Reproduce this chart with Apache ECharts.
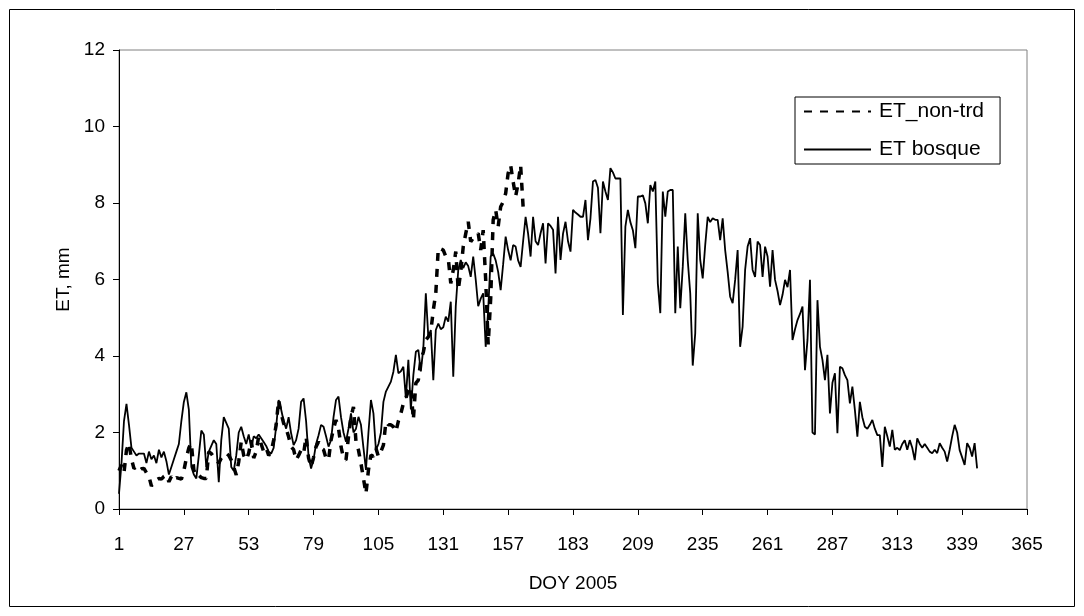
<!DOCTYPE html>
<html>
<head>
<meta charset="utf-8">
<script src="https://cdn.jsdelivr.net/npm/echarts@6/dist/echarts.min.js"></script>
<style>
html,body{margin:0;padding:0;background:#fff;}
#chart{width:1084px;height:616px;}
</style>
</head>
<body>
<div id="chart"></div>
<script>
// Day-of-year categories 1..365
const firstDay = 1;
const lastDay = 365;
const xTickStep = 26;
const yTicks = [0, 2, 4, 6, 8, 10, 12];

// ET_non-trd, daily values starting at DOY 1
const etNonTrd = [
 1.0,1.15,0.95,1.54,1.72,1.3,1.06,1.1,1.0,1.05,
 1.06,0.95,0.85,0.6,0.7,0.76,0.8,0.78,0.85,0.89,
 0.71,0.85,0.75,0.82,0.8,0.78,1.0,1.33,1.6,1.72,
 1.02,0.85,0.88,0.82,0.8,0.8,1.5,1.45,1.35,1.28,
 1.2,1.33,1.4,1.46,1.4,1.28,1.1,0.89,1.24,1.76,
 1.4,1.28,1.46,1.8,1.33,1.5,1.9,1.7,1.5,1.6,
 1.4,1.5,1.8,2.2,2.85,2.5,2.24,2.1,1.89,1.63,
 1.55,1.28,1.4,1.54,1.45,1.89,1.33,1.1,1.35,1.63,
 1.76,1.6,1.55,1.33,1.28,1.8,2.1,2.33,2.11,1.63,
 1.33,1.28,1.89,2.41,2.67,1.76,1.54,1.19,0.8,0.4,
 1.02,1.41,1.37,1.59,1.37,1.5,1.67,2.28,2.2,2.2,
 2.15,2.02,2.3,2.5,2.76,2.9,3.1,3.2,2.33,3.29,
 3.37,3.9,4.1,4.42,4.5,4.64,5.2,5.64,6.82,6.8,
 6.77,6.6,6.55,5.9,6.25,6.73,5.73,6.2,6.86,7.2,
 7.51,6.99,7.08,7.15,7.21,6.77,7.29,5.99,4.3,5.5,
 7.56,7.82,7.38,7.9,8.03,8.25,8.78,8.99,8.56,8.17,
 8.51,8.99,7.9
];

// ET bosque, daily values starting at DOY 1
const etBosque = [
 0.4,1.2,2.3,2.75,2.2,1.6,1.5,1.4,1.45,1.45,
 1.45,1.2,1.5,1.3,1.4,1.2,1.55,1.35,1.5,1.25,
 0.9,1.1,1.3,1.5,1.7,2.3,2.8,3.05,2.6,1.1,
 0.9,0.8,1.4,2.05,1.95,1.1,1.5,1.65,1.8,1.7,
 0.7,1.8,2.4,2.25,2.1,1.1,1.0,1.4,2.0,2.15,
 1.9,1.7,1.95,1.6,1.9,1.85,1.95,1.85,1.75,1.65,
 1.5,1.45,1.6,2.15,2.85,2.6,2.3,2.1,2.4,1.98,
 1.67,1.8,2.1,2.8,2.89,2.3,1.37,1.06,1.3,1.7,
 1.93,2.2,2.15,1.9,1.63,1.8,2.4,2.85,2.94,2.4,
 2.0,1.76,2.1,2.5,2.0,2.1,2.41,2.2,1.6,1.02,
 2.0,2.85,2.5,1.54,1.7,2.0,2.8,3.07,3.2,3.33,
 3.59,4.03,3.55,3.6,3.72,2.9,3.9,2.6,3.5,4.11,
 4.16,3.6,4.2,5.64,4.5,4.68,3.37,4.68,4.85,4.7,
 4.75,5.03,4.9,5.42,3.46,5.3,6.25,6.51,6.3,6.45,
 6.35,6.07,6.6,6.0,5.3,5.5,5.64,4.24,5.2,6.6,
 6.68,6.5,6.2,5.72,6.4,7.12,6.77,6.5,6.9,6.86,
 6.5,6.33,7.0,7.64,7.2,6.6,7.64,7.0,6.9,7.21,
 7.47,6.42,7.47,7.4,7.3,6.16,7.64,6.51,7.2,7.51,
 7.0,6.73,7.82,7.75,7.7,7.64,7.64,8.08,7.03,7.6,
 8.56,8.6,8.4,7.21,8.56,8.3,8.08,8.91,8.8,8.64,
 8.64,8.64,5.07,7.38,7.82,7.5,7.29,6.82,8.17,8.17,
 8.2,7.99,7.47,8.47,8.3,8.56,5.9,5.12,8.3,7.64,
 8.3,8.34,8.34,5.12,6.86,5.25,6.33,7.73,6.5,5.64,
 3.75,4.59,7.73,6.51,6.03,6.9,7.64,7.5,7.6,7.56,
 7.56,7.03,7.6,6.77,6.2,5.55,5.38,5.99,6.77,4.24,
 4.77,6.25,6.86,7.08,6.25,6.07,6.99,6.9,6.07,6.86,
 6.6,5.81,6.77,5.99,5.7,5.33,5.6,5.99,5.8,6.25,
 4.42,4.7,4.94,5.1,5.29,3.63,4.42,5.99,2.0,1.95,
 5.46,4.24,3.9,3.37,4.03,2.5,3.3,3.55,1.98,3.72,
 3.68,3.5,3.37,2.76,3.2,2.59,1.89,2.8,2.4,2.15,
 2.1,2.2,2.33,2.1,1.93,1.93,1.1,2.15,1.9,1.63,
 2.07,1.55,1.6,1.54,1.7,1.8,1.55,1.8,1.6,1.28,
 1.85,1.7,1.6,1.7,1.6,1.5,1.46,1.55,1.46,1.72,
 1.6,1.5,1.24,1.55,1.9,2.2,2.0,1.54,1.35,1.15,
 1.72,1.6,1.37,1.72,1.06
];

const days = [];
for (let d = firstDay; d <= lastDay; d++) days.push(String(d));

const FONT = '"Liberation Sans", Arial, sans-serif';

const chart = echarts.init(document.getElementById('chart'), null, {renderer: 'canvas'});
chart.setOption({
  animation: false,
  backgroundColor: '#fff',
  textStyle: {fontFamily: FONT},
  graphic: [{
    type: 'rect',
    shape: {x: 9.5, y: 9.5, width: 1065, height: 597},
    style: {fill: 'none', stroke: '#000', lineWidth: 1},
    silent: true, z: -1
  }],
  grid: {
    left: 119, right: 57, top: 50, bottom: 107,
    show: true, borderColor: '#808080', borderWidth: 1
  },
  legend: {
    orient: 'vertical',
    left: 795, top: 97,
    padding: [4, 16, 4, 8],
    itemGap: 17,
    itemWidth: 67,
    itemHeight: 14,
    borderColor: '#000', borderWidth: 1,
    backgroundColor: '#fff',
    itemStyle: {opacity: 0},
    textStyle: {fontSize: 21, color: '#000', fontFamily: FONT, padding: [0, 0, 0, 3]},
    data: [
      {name: 'ET_non-trd'},
      {name: 'ET bosque'}
    ]
  },
  xAxis: {
    type: 'category',
    data: days,
    boundaryGap: false,
    name: 'DOY 2005',
    nameLocation: 'middle',
    nameGap: 65,
    nameTextStyle: {fontSize: 19, color: '#000', fontFamily: FONT},
    axisLine: {lineStyle: {color: '#000', width: 1}},
    axisTick: {show: true, inside: false, length: 6, lineStyle: {color: '#000'},
               interval: (i) => i % xTickStep === 0},
    axisLabel: {fontSize: 19, color: '#000', margin: 26, fontFamily: FONT,
                interval: (i) => i % xTickStep === 0},
    splitLine: {show: false}
  },
  yAxis: {
    type: 'value',
    min: yTicks[0], max: yTicks[yTicks.length - 1], interval: 2,
    name: 'ET, mm',
    nameLocation: 'middle',
    nameGap: 44,
    nameRotate: 90,
    nameTextStyle: {fontSize: 19, color: '#000', fontFamily: FONT},
    axisLine: {show: true, lineStyle: {color: '#000', width: 1}},
    axisTick: {show: true, inside: false, length: 6, lineStyle: {color: '#000'}},
    axisLabel: {fontSize: 19, color: '#000', margin: 14, fontFamily: FONT},
    splitLine: {show: false}
  },
  series: [
    {
      name: 'ET_non-trd',
      type: 'line',
      data: etNonTrd,
      symbol: 'none',
      showSymbol: false,
      z: 3,
      lineStyle: {color: '#000', width: 3.5, type: [8, 8]},
      itemStyle: {color: '#000'}
    },
    {
      name: 'ET bosque',
      type: 'line',
      data: etBosque,
      symbol: 'none',
      showSymbol: false,
      z: 2,
      lineStyle: {color: '#000', width: 1.8, type: 'solid'},
      itemStyle: {color: '#000'}
    }
  ]
});
</script>
</body>
</html>
